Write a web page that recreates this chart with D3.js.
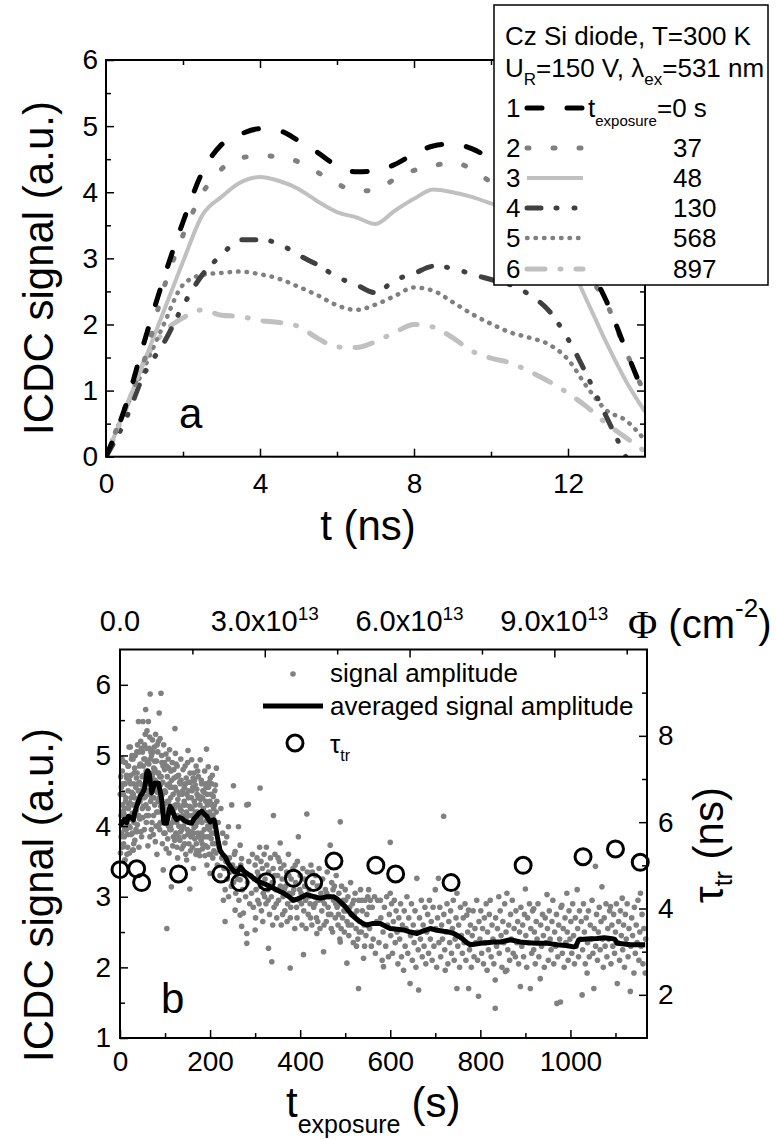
<!DOCTYPE html>
<html lang="en">
<head>
<meta charset="UTF-8">
<script src="https://d3js.org/d3.v7.min.js"></script>
<style>
    body { margin: 0; background: white; }
    svg { display: block; font-family: "Liberation Sans", Arial, sans-serif; }
</style>
</head>
<body>
<div id="chart"></div>
<script>
// ---------- panel a : transient ICDC signals ----------
const tGrid = [0, 0.5, 1, 1.5, 2, 2.5, 3, 3.5, 4, 4.5, 5, 5.5, 6, 6.5, 7, 7.5, 8, 8.5, 9, 9.5, 10, 10.5, 11, 11.5, 12, 12.5, 13, 13.5, 14];
const sig0   = [0, 0.75, 1.75, 2.7, 3.55, 4.3, 4.72, 4.88, 4.96, 4.93, 4.78, 4.6, 4.4, 4.31, 4.32, 4.42, 4.58, 4.7, 4.73, 4.66, 4.5, 4.3, 4.05, 3.7, 3.3, 2.9, 2.35, 1.62, 0.9];
const sig37  = [0, 0.75, 1.47, 2.55, 3.35, 3.98, 4.35, 4.52, 4.55, 4.54, 4.46, 4.3, 4.13, 4.02, 4.03, 4.2, 4.33, 4.4, 4.45, 4.35, 4.15, 3.95, 3.7, 3.4, 3.1, 2.75, 2.32, 1.6, 0.95];
const sig48  = [0, 0.72, 1.45, 2.2, 2.95, 3.65, 3.93, 4.15, 4.23, 4.17, 4.05, 3.86, 3.7, 3.62, 3.52, 3.72, 3.9, 4.04, 4.0, 3.93, 3.83, 3.72, 3.55, 3.3, 2.95, 2.35, 1.72, 1.15, 0.68];
const sig130 = [0, 0.55, 1.26, 1.72, 2.28, 2.75, 3.05, 3.28, 3.28, 3.22, 3.05, 2.9, 2.72, 2.6, 2.48, 2.67, 2.77, 2.88, 2.85, 2.76, 2.68, 2.6, 2.45, 2.21, 1.78, 1.22, 0.6, 0, null];
const sig568 = [0, 0.72, 1.35, 2.0, 2.6, 2.75, 2.78, 2.8, 2.76, 2.69, 2.57, 2.44, 2.29, 2.22, 2.3, 2.43, 2.56, 2.51, 2.34, 2.16, 2.01, 1.88, 1.8, 1.7, 1.47, 1.05, 0.7, 0.55, 0.25];
const sig897 = [0, 0.7, 1.45, 1.88, 2.1, 2.22, 2.14, 2.12, 2.06, 2.03, 1.97, 1.79, 1.66, 1.65, 1.74, 1.88, 2.0, 1.96, 1.8, 1.6, 1.49, 1.42, 1.29, 1.14, 0.96, 0.75, 0.5, 0.29, 0.08];
const curveIds = ["1", "2", "3", "4", "5", "6"];
const exposureLabels = ["0 s", "37", "48", "130", "568", "897"];

// ---------- panel b : signal amplitude vs exposure ----------
const ampPoints = [
    [1,3.62],[2,4.15],[3,4.55],[4,3.9],[5,4.78],[6,4.3],[7,4.02],[8,3.75],[9,4.6],[10,4.25],
    [11,3.52],[12,4.9],[13,4.4],[14,3.95],[15,4.68],[16,4.12],[17,3.7],[18,4.5],[19,4.85],[20,4.0],
    [21,3.62],[22,4.33],[23,5.12],[24,4.72],[25,3.88],[26,4.48],[27,4.18],[28,3.66],[29,4.95],[30,4.6],
    [31,4.05],[32,4.4],[33,3.8],[34,5.0],[35,4.55],[36,4.22],[37,3.92],[38,4.75],[39,5.15],[40,4.35],
    [41,5.48],[42,3.7],[43,4.62],[44,4.1],[45,4.88],[46,5.2],[47,4.45],[48,3.85],[49,4.7],[50,5.05],
    [51,5.48],[52,4.28],[53,4.95],[54,3.95],[55,4.6],[56,5.3],[57,5.65],[58,4.78],[59,4.15],[60,5.35],
    [61,4.5],[62,3.72],[63,5.48],[64,4.88],[65,5.1],[66,5.26],[67,5.87],[68,4.35],[69,4.7],[70,5.0],
    [71,4.05],[72,5.22],[73,4.55],[74,3.88],[75,4.82],[76,5.12],[77,4.3],[78,4.65],[79,5.3],[80,4.0],
    [81,4.92],[82,3.6],[83,4.48],[84,5.05],[85,4.2],[86,4.75],[87,5.6],[88,3.95],[89,5.24],[90,4.58],
    [91,5.88],[92,4.38],[93,4.9],[94,3.75],[95,4.62],[96,3.38],[97,5.15],[98,4.25],[99,4.8],[100,3.9],
    [101,4.48],[102,5.02],[103,4.15],[104,2.55],[105,4.7],[106,3.82],[107,4.95],[108,4.35],[109,3.62],[110,5.08],
    [111,4.55],[112,4.0],[113,4.78],[114,3.14],[115,4.28],[116,4.9],[117,3.72],[118,4.45],[119,4.1],[120,4.68],
    [122,5.38],[123,5.03],[124,3.9],[125,4.5],[126,4.05],[127,4.85],[128,3.55],[129,4.3],[130,4.72],[131,4.12],
    [133,3.8],[134,4.6],[135,4.95],[136,4.22],[137,3.68],[138,4.45],[140,4.8],[141,4.0],[142,3.85],[143,4.55],
    [145,4.3],[146,3.6],[147,4.68],[148,3.52],[149,4.15],[150,4.9],[151,5.07],[152,4.4],[153,3.75],[154,4.05],
    [155,3.11],[156,4.62],[157,4.25],[158,3.92],[159,4.94],[160,4.5],[161,3.7],[162,4.15],[163,3.4],[164,4.75],
    [165,4.35],[166,3.82],[167,4.58],[168,4.0],[169,4.85],[170,3.65],[171,4.45],[172,4.2],[173,3.9],[174,4.7],
    [176,4.1],[177,3.58],[178,4.94],[179,4.38],[180,3.8],[181,4.6],[182,4.05],[183,3.68],[184,4.5],[185,4.25],
    [187,3.95],[188,4.78],[189,4.15],[190,3.72],[191,4.55],[192,5.09],[193,3.45],[194,4.3],[195,4.0],[196,4.84],
    [197,3.85],[198,4.62],[199,4.2],[200,3.33],[201,3.6],[202,4.45],[203,4.1],[204,3.9],[205,4.72],[206,3.55],
    [207,4.42],[208,4.25],[209,4.0],[210,3.75],[212,4.58],[213,3.62],[214,4.82],[215,4.35],
    [0.5,4.45],[2.5,3.85],[4.5,4.95],[6.5,4.6],[8.5,4.18],[10.5,3.95],[12.5,4.35],[14.5,4.72],[16.5,3.88],[18.5,4.25],
    [20.5,4.65],[22.5,3.98],[24.5,4.4],[26.5,5.0],[28.5,4.3],[30.5,3.75],[32.5,4.82],[34.5,4.15],[36.5,4.68],[38.5,4.02],
    [40.5,4.5],[42.5,5.05],[44.5,4.35],[46.5,3.92],[48.5,4.58],[50.5,4.12],[52.5,4.72],[54.5,5.15],[56.5,4.42],[58.5,4.05],
    [60.5,4.9],[62.5,4.25],[64.5,4.6],[66.5,3.85],[68.5,5.05],[70.5,4.4],[72.5,4.75],[74.5,4.15],[76.5,4.92],[78.5,3.78],
    [80.5,4.5],[82.5,5.15],[84.5,4.35],[86.5,4.02],[88.5,4.7],[90.5,4.28],[92.5,5.0],[94.5,4.45],[96.5,4.1],[98.5,4.9],
    [100.5,4.32],[102.5,3.68],[104.5,4.58],[106.5,4.2],[108.5,4.82],[110.5,3.95],[112.5,4.4],[114.5,4.65],[116.5,4.05],[118.5,3.85],
    [120.5,4.25],[122.5,4.55],[124.5,4.88],[126.5,3.7],[128.5,4.38],[130.5,4.0],[132.5,4.62],[134.5,3.92],[136.5,4.48],[138.5,4.15],
    [140.5,3.72],[142.5,4.35],[144.5,4.85],[146.5,4.1],[148.5,4.45],[150.5,3.88],[152.5,4.62],[154.5,4.28],[156.5,3.65],[158.5,4.4],
    [160.5,4.15],[162.5,4.68],[164.5,3.98],[166.5,4.3],[168.5,3.6],[170.5,4.52],[172.5,4.78],[174.5,3.85],[176.5,4.42],[178.5,4.12],
    [180.5,4.65],[182.5,3.75],[184.5,4.22],[186.5,4.48],[188.5,3.58],[190.5,4.35],[192.5,4.08],[194.5,3.7],[196.5,4.55],[198.5,3.95],
    [200.5,4.68],[202.5,3.82],[204.5,4.3],[206.5,4.15],[208.5,3.65],[210.5,4.5],[29.6,3.66],[11,3.52],[7.4,4.91],[20,5.12],
    [1.5,4.7],[3.5,4.2],[5.5,3.7],[7.5,4.45],[9.5,3.85],[11.5,4.6],[13.5,4.05],[15.5,3.6],[17.5,4.85],[19.5,4.3],
    [21.5,4.1],[23.5,4.6],[25.5,4.95],[27.5,3.9],[29.5,4.45],[31.5,4.75],[33.5,4.3],[35.5,3.95],[37.5,5.05],[39.5,4.6],
    [41.5,4.15],[43.5,4.85],[45.5,4.5],[47.5,5.1],[49.5,4.25],[51.5,4.85],[53.5,4.4],[55.5,4.95],[57.5,4.3],[59.5,5.1],
    [61.5,4.7],[63.5,4.15],[65.5,4.45],[67.5,4.95],[69.5,3.95],[71.5,4.7],[73.5,5.05],[75.5,4.4],[77.5,4.8],[79.5,4.55],
    [81.5,4.2],[83.5,4.75],[85.5,5.2],[87.5,4.4],[89.5,4.05],[91.5,4.7],[93.5,4.25],[95.5,4.85],[97.5,3.9],[99.5,4.5],
    [101.5,4.1],[103.5,4.85],[105.5,4.35],[107.5,4.0],[109.5,4.6],[111.5,4.25],[113.5,3.95],[115.5,4.55],[117.5,4.2],[119.5,4.8],
    [121.5,3.8],[123.5,4.3],[125.5,4.7],[127.5,4.15],[129.5,3.85],[131.5,4.45],[133.5,4.25],[135.5,4.65],[137.5,3.95],[139.5,4.5],
    [141.5,4.3],[143.5,3.75],[145.5,4.6],[147.5,4.2],[149.5,3.95],[151.5,4.5],[153.5,4.15],[155.5,4.75],[157.5,3.85],[159.5,4.25],
    [161.5,4.55],[163.5,3.9],[165.5,4.65],[167.5,4.2],[169.5,3.75],[171.5,4.05],[173.5,4.4],[175.5,3.65],[177.5,4.3],[179.5,4.1],
    [181.5,3.9],[183.5,4.4],[185.5,3.85],[187.5,4.2],[189.5,4.6],[191.5,3.85],[193.5,4.45],[195.5,4.15],[197.5,3.6],[199.5,4.35],
    [201.5,4.0],[203.5,4.6],[205.5,3.75],[207.5,4.05],[209.5,4.3],[211.5,3.9],[213.5,4.2],
    [216,3.45],[218,4.05],[220,3.7],[222,3.3],[224,4.25],[226,3.55],[228,3.9],[229.6,2.95],[231,3.4],[233,3.76],
    [233.5,3.1],[233.3,2.65],[235,3.5],[237,3.85],[238,3.25],[240.7,3.99],[241,3.0],[243,3.55],[245,3.35],[247,3.15],
    [248,4.3],[250,3.45],[251.9,4.57],[252,3.2],[254,3.6],[255.6,3.64],[255.6,2.81],[257,3.05],[259,3.4],[261,3.25],
    [263,3.99],[264,2.95],[266.7,3.73],[266.7,3.24],[266.7,2.74],[268,3.45],[270,3.54],[270,2.58],[272,3.1],[274,2.77],
    [276,3.35],[277.8,3.33],[279,3.0],[281.5,4.3],[281.5,2.48],[281.5,2.34],[283,3.2],[285,4.31],[286,3.5],[288,2.9],
    [290,3.3],[292,3.05],[294,3.6],[296,2.85],[298,3.25],[300,2.53],[300,3.45],
    [302,3.1],[304,3.55],[306,2.95],[308,3.3],[310,3.7],[311,4.54],[312,3.15],[314,2.8],[316,3.4],[318,3.05],
    [320,3.6],[322,3.25],[324,2.9],[326,3.45],[328,3.1],[329.6,2.27],[330,3.35],[332,2.75],[334,3.55],[336,3.0],
    [337,2.08],[338,3.2],[340,3.4],[340.7,4.15],[342,2.85],[344,3.6],[346,3.1],[348,2.7],[350,3.3],[352,2.95],
    [354,3.5],[355.6,3.76],[356,3.15],[358,2.6],[360,3.25],[362,3.0],[364,3.45],[366,2.8],[368,3.15],[370,3.35],
    [372,2.9],[374,3.6],[376,3.05],[377.8,1.99],[378,2.7],[380,3.25],[382,2.95],[384,3.4],[386,3.1],[388,2.55],
    [390,3.2],[392,2.85],[394,3.5],[396,3.85],[398,2.95],[400,3.3],[402,3.05],[404,2.6],[406,3.4],[407.4,2.18],
    [408,2.8],[410,3.15],[412,2.95],[414.8,4.17],[416,3.35],[418,2.75],[420,3.1],[422,2.9],[424,3.45],[426,2.6],
    [428,3.2],[430,2.85],[432,3.0],[434,3.3],[436,2.7],[437,2.48],[438,3.15],[440,2.95],[442,3.4],[444,2.55],
    [446,3.05],[448,2.8],[450,3.25],[452,2.22],[454,2.9],[456,3.1],[458,2.65],[460,3.35],[462,2.85],[464,3.0],
    [466.7,3.73],[468,2.75],[470,3.2],[472,2.5],[474,2.95],[476,3.15],[478,2.7],[480,3.3],[482,2.85],[484,2.6],
    [486,3.05],[488,2.4],[489,4.06],[489,2.36],[490,2.9],[492,3.15],[494,2.7],[496,2.95],[498,2.5],[500,3.1],
    [502,2.8],[503.7,2.06],[504,2.65],[506,3.0],[508,2.45],[510,2.85],[512,3.2],[514,2.6],[516,2.9],[518,2.35],
    [520,2.75],[522,3.05],[524,2.55],[526,2.8],[528,2.4],[529.6,1.7],[530,2.95],[532,2.65],[534,3.1],[536,2.5],
    [538,2.8],[540.7,2.13],[542,2.6],[544,2.95],[546,2.45],[548,2.75],[550,3.0],[552,3.1],[554,2.55],[555.6,2.95],[558,2.3],
    [301,2.7],[305,3.35],[309,2.9],[313,3.5],[317,2.65],[321,3.0],[325,3.7],[329,2.95],[333,3.15],[339,2.6],
    [343,3.3],[347,2.9],[351,3.55],[357,3.4],[361,2.75],[365,3.1],[371,2.65],[375,3.3],[379,2.85],[383,3.05],
    [389,3.45],[393,2.7],[399,3.1],[403,2.9],[409,3.25],[413,2.55],[419,3.0],[423,2.7],[427,3.35],[433,2.9],
    [439,2.65],[443,3.15],[449,2.95],[453,2.6],[459,3.05],[463,2.75],[469,2.55],[473,3.1],[479,2.9],[485,2.75],
    [491,2.55],[497,2.8],[501,2.95],[507,2.6],[513,2.75],[519,2.95],[525,2.3],[531,2.5],[537,2.95],[543,2.3],
    [549,2.6],[553,2.85],
    [560,2.85],[562,2.4],[565,3.0],[567,2.2],[570,2.65],[572,2.95],[575,2.35],[578,2.95],[579,2.7],[582,2.1],
    [584,2.5],[585,2.01],[587,2.85],[590,2.3],[592,3.0],[594,2.6],[596,2.15],[598,2.75],[600,3.77],[600,3.05],
    [601,2.45],[603,2.9],[605,2.2],[607,2.65],[609,2.95],[611,2.35],[613,2.8],[615,2.5],[617,2.05],[619,2.7],
    [621,2.4],[623,2.9],[625,2.15],[627,2.6],[629.6,1.96],[631,2.8],[633,2.3],[635,2.55],[637,3.0],[639,2.2],
    [641,2.7],[644,1.77],[645,2.45],[647,2.9],[649,2.1],[651,2.6],[653,2.35],[655,2.8],[657,2.0],[659,3.26],
    [660,2.5],[662,2.25],[663,1.68],[665,2.7],[667,2.4],[669,2.95],[671,2.15],[673,2.6],[675,2.3],[677,2.85],
    [679,2.05],[681,2.5],[683,2.75],[685,2.2],[687,2.95],[689,2.4],[691,2.65],[693,2.1],[695,2.85],[697,2.3],
    [700,3.1],[701,2.55],[703,2.0],[705,2.7],[707,3.26],[708,2.35],[710,2.85],[712,2.15],[714,2.6],[716,2.4],
    [718.5,4.14],[719,2.75],[721,2.25],[722,1.96],[724,2.5],[726,2.9],[728,2.05],[730,2.65],[732,2.35],[734,2.8],
    [736,2.2],[738,2.55],[740,2.95],[742,2.1],[744,2.4],[746,2.7],[748,3.05],[748,1.7],[750,2.3],[752,2.6],
    [754,2.0],[756,2.85],[758,2.45],[760,2.2],[762,2.7],[764,2.35],[766,2.9],[768,2.1],[770,2.74],[772,2.5],
    [774,2.81],[774,1.7],[776,2.25],[778,2.6],[780,2.0],[782,2.45],[784,2.8],[786,2.15],[788,2.55],[790,2.35],
    [792,2.95],[794,2.1],[796,1.59],[797,2.65],[799,2.4],[801,2.8],[803,2.2],[805,2.55],[807,2.05],[809,2.7],
    [811,2.35],[813,2.9],[815,1.96],[816,2.5],[818,2.25],[820,2.75],[822,2.95],[824,2.15],[826,2.6],[828,2.4],
    [830,2.05],[833,1.82],[833,1.42],[834,2.7],[836,2.3],[838,2.55],[841,3.0],[842,2.2],[844,2.8],[846,2.45],
    [848,2.0],[850,2.65],[852,2.35],[854,2.9],[855.6,1.94],[857,2.5],[859,3.05],[859,1.96],[861,2.25],[863,2.6],
    [865,2.1],[867,2.75],[869,2.4],[871,2.95],[873,2.2],[875,2.55],[877.8,2.15],[879,2.8],[881,2.35],[883,2.65],
    [885,2.05],[887,2.5],[888.9,1.73],[890,2.85],[892,2.3],[894,2.6],[896,2.15],[898,2.75],[900,3.11],[901,2.45],
    [903,2.0],[905,2.7],[907,2.35],[909,2.9],[911,1.7],[912,2.55],[914,2.2],[916,2.8],[918.5,2.83],[918.5,2.25],
    [920,2.5],[922,2.05],[924,2.65],[926,2.4],[928,2.9],[930,2.15],[933,1.84],[934,2.6],[936,2.3],[938,2.75],
    [940,2.45],[942,2.0],[944,2.7],[946,2.35],[948,3.03],[949,2.55],[951,2.1],[953,2.8],[955,2.4],[957,2.25],
    [959,2.65],[961,2.95],[963,2.05],[965,2.5],[967,2.3],[969,2.75],[970,1.49],[972,2.15],[974,2.6],[976,2.4],
    [977.8,1.51],[979,2.85],[981,2.88],[982,2.2],[984,2.55],[986,2.0],[988,2.7],[990,2.35],[992,3.05],[993,2.5],
    [995,2.1],[997,2.8],[999,2.4],[1001,2.65],[1003,2.2],[1005,2.9],[1007,2.45],[1009,2.05],[1011,2.7],[1013,2.3],
    [1015,3.1],[1016,2.55],[1018,2.15],[1020,2.8],[1022,2.4],[1024,2.65],[1026,1.61],[1027,2.25],[1029,2.9],[1031,2.5],
    [1033,2.05],[1035,2.7],[1037,1.92],[1038,2.35],[1040,2.8],[1042,2.15],[1044,2.6],[1046,2.4],[1048,2.95],[1050,2.2],
    [1052,1.7],[1053,2.55],[1055.5,3.43],[1056,2.3],[1058,2.75],[1060,2.1],[1062,2.5],[1064,2.85],[1066,2.25],[1068,2.65],
    [1070,3.14],[1071,2.4],[1073,2.0],[1075,2.7],[1077,2.3],[1079,2.9],[1081,2.15],[1083,2.55],[1085,2.4],[1087,2.8],
    [1089,2.86],[1090,2.05],[1092,2.6],[1094,2.3],[1096,2.75],[1098,2.2],[1100,2.5],[1102,2.9],[1104,1.77],[1105,2.35],
    [1107,2.65],[1109,2.1],[1111,2.8],[1113,2.45],[1115,2.98],[1116,2.25],[1118,2.6],[1120,2.0],[1122,2.75],[1124,2.4],
    [1126,2.9],[1128,2.15],[1130,2.55],[1133,1.66],[1134,2.3],[1136,2.7],[1138,2.45],[1141,1.92],[1142,2.85],[1144,2.2],
    [1146,2.6],[1148,2.35],[1150,2.95],[1152,2.1],[1154,2.5],[1155.5,3.05],[1157,2.3],[1159,2.75],[1161,2.05],[1163,2.55],
    [1166,1.92],[1167,2.4]
];
const avgT = [0, 4, 10, 15, 18.5, 25, 29.6, 33, 37, 41, 44.4, 48, 51.9, 55, 59.3, 62, 65.2, 68, 70.4, 74, 77.8, 82, 85.2, 89, 92.6, 95, 97.8, 103.7, 107, 111, 115, 118.5, 122, 126, 132, 137, 142, 148, 153, 159, 164, 170, 175, 181.5, 187, 192.6, 196, 200, 205, 209, 212, 214.8, 218, 222, 228, 233, 240.7, 248, 255, 262, 268, 275, 289, 305, 322, 340.7, 360, 375, 385, 395, 405, 414.8, 430, 444.4, 460, 474, 482, 489, 500, 510, 518.5, 530, 540, 548, 560, 577.8, 590, 600, 615, 629.6, 645, 659.3, 675, 688.9, 700, 718.5, 730, 740.7, 752, 763, 770, 777.8, 790, 800, 815, 829.6, 845, 866.7, 888.9, 905, 925.9, 950, 970.4, 990, 1007.4, 1012, 1018.5, 1035, 1059, 1075, 1089, 1098, 1103.7, 1120, 1133, 1150, 1166];
const avgV = [4.0, 4.04, 4.1, 4.05, 4.14, 4.12, 4.09, 4.2, 4.28, 4.35, 4.42, 4.45, 4.49, 4.55, 4.75, 4.78, 4.73, 4.6, 4.47, 4.55, 4.61, 4.6, 4.61, 4.5, 4.37, 4.2, 4.04, 4.04, 4.15, 4.28, 4.24, 4.18, 4.13, 4.09, 4.12, 4.11, 4.08, 4.06, 4.05, 4.04, 4.1, 4.14, 4.18, 4.21, 4.17, 4.14, 4.1, 4.06, 4.08, 4.09, 4.0, 3.9, 3.78, 3.66, 3.6, 3.57, 3.47, 3.4, 3.35, 3.36, 3.42, 3.36, 3.3, 3.22, 3.18, 3.12, 3.06, 3.0, 2.95, 2.97, 3.0, 3.03, 3.0, 2.98, 3.0, 3.0, 2.97, 2.93, 2.86, 2.78, 2.72, 2.66, 2.62, 2.6, 2.62, 2.62, 2.58, 2.55, 2.54, 2.53, 2.5, 2.48, 2.52, 2.55, 2.53, 2.51, 2.5, 2.48, 2.44, 2.39, 2.35, 2.32, 2.33, 2.34, 2.35, 2.36, 2.36, 2.39, 2.36, 2.35, 2.34, 2.34, 2.32, 2.31, 2.29, 2.3, 2.39, 2.4, 2.41, 2.42, 2.41, 2.4, 2.34, 2.33, 2.32, 2.32, 2.32];
const tauT = [0, 37, 48, 130, 224, 266, 325, 385, 430, 475, 568, 612, 735, 895, 1028, 1100, 1155];
const tauV = [4.9, 4.92, 4.6, 4.8, 4.8, 4.6, 4.62, 4.7, 4.6, 5.1, 5.0, 4.8, 4.6, 5.0, 5.2, 5.38, 5.07];
const phiTicks = [0, 3e13, 6e13, 9e13];
const phiMant = ["0.0", "3.0x10", "6.0x10", "9.0x10"];
const phiExp = ["", "13", "13", "13"];

const svg = d3.select("#chart").append("svg")
    .attr("width", 776)
    .attr("height", 1139);

const intFmt = d3.format("d");

function finishAxis(g, fontSize) {
    g.select(".domain").remove();
    g.selectAll(".tick line").attr("stroke", "#000").attr("stroke-width", 1.5);
    g.selectAll(".tick text")
        .attr("fill", "#000")
        .attr("font-size", fontSize)
        .attr("font-family", "Liberation Sans, Arial, sans-serif");
}

// ================= panel a =================
const xA = d3.scaleLinear().domain([0, 14]).range([106, 645]);
const yA = d3.scaleLinear().domain([0, 6]).range([456.7, 60]);

const styles = [
    { color: "#000000", width: 5, dash: "15,25" },
    { color: "#808080", width: 5, dash: "2,24" },
    { color: "#c0c0c0", width: 4, dash: null },
    { color: "#404040", width: 5, dash: "14,15,1,17,1,17" },
    { color: "#808080", width: 4.5, dash: "0.5,8" },
    { color: "#c0c0c0", width: 5, dash: "18,15,1,15" }
];
const curves = [sig0, sig37, sig48, sig130, sig568, sig897];

svg.append("clipPath").attr("id", "clipA")
    .append("rect")
    .attr("x", xA(0)).attr("y", yA(6))
    .attr("width", xA(14) - xA(0)).attr("height", yA(0) - yA(6));

const lineA = d3.line()
    .defined(d => d[1] != null)
    .x(d => xA(d[0]))
    .y(d => yA(d[1]))
    .curve(d3.curveMonotoneX);

const gA = svg.append("g").attr("clip-path", "url(#clipA)");
for (let i = curves.length - 1; i >= 0; i--) {
    const pts = tGrid.map((t, j) => [t, curves[i][j]]);
    gA.append("path")
        .attr("d", lineA(pts))
        .attr("fill", "none")
        .attr("stroke", styles[i].color)
        .attr("stroke-width", styles[i].width)
        .attr("stroke-linecap", styles[i].dash ? "round" : "butt")
        .attr("stroke-linejoin", "round")
        .attr("stroke-dasharray", styles[i].dash);
}

// axes a
svg.append("g").attr("transform", `translate(0,${yA(0)})`)
    .call(d3.axisBottom(xA).tickValues([0, 4, 8, 12]).tickFormat(intFmt).tickSizeInner(-8).tickSizeOuter(0).tickPadding(16))
    .call(g => finishAxis(g, 28));
svg.append("g").attr("transform", `translate(0,${yA(0)})`)
    .call(d3.axisBottom(xA).tickValues([2, 6, 10]).tickSize(-5).tickFormat(""))
    .call(g => finishAxis(g, 28));
svg.append("g").attr("transform", `translate(0,${yA(6)})`)
    .call(d3.axisTop(xA).tickValues([4, 8, 12]).tickSize(-8).tickFormat(""))
    .call(g => finishAxis(g, 28));
svg.append("g").attr("transform", `translate(0,${yA(6)})`)
    .call(d3.axisTop(xA).tickValues([2, 6, 10]).tickSize(-5).tickFormat(""))
    .call(g => finishAxis(g, 28));
svg.append("g").attr("transform", `translate(${xA(0)},0)`)
    .call(d3.axisLeft(yA).tickValues([0, 1, 2, 3, 4, 5, 6]).tickFormat(intFmt).tickSizeInner(-8).tickSizeOuter(0).tickPadding(8))
    .call(g => finishAxis(g, 28));
svg.append("g").attr("transform", `translate(${xA(0)},0)`)
    .call(d3.axisLeft(yA).tickValues([0.5, 1.5, 2.5, 3.5, 4.5, 5.5]).tickSize(-5).tickFormat(""))
    .call(g => finishAxis(g, 28));
svg.append("g").attr("transform", `translate(${xA(14)},0)`)
    .call(d3.axisRight(yA).tickValues([1, 2, 3, 4, 5]).tickSize(-8).tickFormat(""))
    .call(g => finishAxis(g, 28));
svg.append("g").attr("transform", `translate(${xA(14)},0)`)
    .call(d3.axisRight(yA).tickValues([0.5, 1.5, 2.5, 3.5, 4.5, 5.5]).tickSize(-5).tickFormat(""))
    .call(g => finishAxis(g, 28));
svg.append("rect")
    .attr("x", xA(0)).attr("y", yA(6))
    .attr("width", xA(14) - xA(0)).attr("height", yA(0) - yA(6))
    .attr("fill", "none").attr("stroke", "#000").attr("stroke-width", 2);

svg.append("text").attr("x", 368).attr("y", 540)
    .attr("text-anchor", "middle").attr("font-size", 42).text("t (ns)");
svg.append("text").attr("transform", "translate(53,268) rotate(-90)")
    .attr("text-anchor", "middle").attr("font-size", 42).text("ICDC signal (a.u.)");
svg.append("text").attr("x", 179).attr("y", 428).attr("font-size", 42).text("a");

// legend a
const legA = svg.append("g");
legA.append("rect")
    .attr("x", 494).attr("y", 5).attr("width", 274).attr("height", 280)
    .attr("fill", "#fff").attr("stroke", "#000").attr("stroke-width", 1.5);
legA.append("text").attr("x", 505).attr("y", 45).attr("font-size", 26).text("Cz Si diode, T=300 K");
const l2 = legA.append("text").attr("x", 505).attr("y", 77).attr("font-size", 26);
l2.append("tspan").text("U");
l2.append("tspan").attr("font-size", 17).attr("dy", 8).text("R");
l2.append("tspan").attr("dy", -8).text("=150 V, λ");
l2.append("tspan").attr("font-size", 17).attr("dy", 8).text("ex");
l2.append("tspan").attr("dy", -8).text("=531 nm");

const rowY = [117, 157, 187, 217, 247, 278];
curveIds.forEach((id, i) => {
    legA.append("text").attr("x", 506).attr("y", rowY[i]).attr("font-size", 26).text(id);
    legA.append("line")
        .attr("x1", 527).attr("x2", 583)
        .attr("y1", rowY[i] - 9).attr("y2", rowY[i] - 9)
        .attr("stroke", styles[i].color)
        .attr("stroke-width", styles[i].width)
        .attr("stroke-linecap", styles[i].dash ? "round" : "butt")
        .attr("stroke-dasharray", styles[i].dash);
    if (i === 0) {
        const t1 = legA.append("text").attr("x", 588).attr("y", rowY[i]).attr("font-size", 26);
        t1.append("tspan").text("t");
        t1.append("tspan").attr("font-size", 15).attr("dy", 9).text("exposure");
        t1.append("tspan").attr("dy", -9).text("=" + exposureLabels[i]);
    } else {
        legA.append("text").attr("x", 673).attr("y", rowY[i]).attr("font-size", 26).text(exposureLabels[i]);
    }
});

// ================= panel b =================
const xB = d3.scaleLinear().domain([0, 1170]).range([120, 647]);
const yB = d3.scaleLinear().domain([1, 6.5]).range([1038, 649.5]);
const yTau = d3.scaleLinear().domain([1, 10]).range([1038, 649.5]);
const xPhi = d3.scaleLinear().domain([0, 1.092e14]).range([120, 647]);

svg.append("g").selectAll("circle")
    .data(ampPoints)
    .join("circle")
    .attr("cx", d => xB(d[0]))
    .attr("cy", d => yB(d[1]))
    .attr("r", 2.8)
    .attr("fill", "#808080");

const avgLine = d3.line().x(d => xB(d[0])).y(d => yB(d[1]));
svg.append("path")
    .attr("d", avgLine(avgT.map((t, i) => [t, avgV[i]])))
    .attr("fill", "none").attr("stroke", "#000")
    .attr("stroke-width", 5).attr("stroke-linejoin", "round");

svg.append("g").selectAll("circle")
    .data(tauT.map((t, i) => [t, tauV[i]]))
    .join("circle")
    .attr("cx", d => xB(d[0]))
    .attr("cy", d => yTau(d[1]))
    .attr("r", 8)
    .attr("fill", "none").attr("stroke", "#000").attr("stroke-width", 3);

// axes b
svg.append("g").attr("transform", `translate(0,${yB(1)})`)
    .call(d3.axisBottom(xB).tickValues([0, 200, 400, 600, 800, 1000]).tickFormat(intFmt).tickSizeInner(-8).tickSizeOuter(0).tickPadding(13))
    .call(g => finishAxis(g, 28));
svg.append("g").attr("transform", `translate(0,${yB(1)})`)
    .call(d3.axisBottom(xB).tickValues([100, 300, 500, 700, 900, 1100]).tickSize(-5).tickFormat(""))
    .call(g => finishAxis(g, 28));
svg.append("g").attr("transform", `translate(${xB(0)},0)`)
    .call(d3.axisLeft(yB).tickValues([1, 2, 3, 4, 5, 6]).tickFormat(intFmt).tickSizeInner(-8).tickSizeOuter(0).tickPadding(9))
    .call(g => finishAxis(g, 28));
svg.append("g").attr("transform", `translate(${xB(0)},0)`)
    .call(d3.axisLeft(yB).tickValues([1.5, 2.5, 3.5, 4.5, 5.5]).tickSize(-5).tickFormat(""))
    .call(g => finishAxis(g, 28));
svg.append("g").attr("transform", `translate(${xB(1170)},0)`)
    .call(d3.axisRight(yTau).tickValues([2, 4, 6, 8]).tickFormat(intFmt).tickSizeInner(-8).tickSizeOuter(0).tickPadding(11))
    .call(g => finishAxis(g, 28));
svg.append("g").attr("transform", `translate(${xB(1170)},0)`)
    .call(d3.axisRight(yTau).tickValues([3, 5, 7, 9]).tickSize(-5).tickFormat(""))
    .call(g => finishAxis(g, 28));
svg.append("g").attr("transform", `translate(0,${yB(6.5)})`)
    .call(d3.axisTop(xPhi).tickValues(phiTicks.slice(1)).tickSize(-8).tickFormat(""))
    .call(g => finishAxis(g, 28));
svg.append("g").attr("transform", `translate(0,${yB(6.5)})`)
    .call(d3.axisTop(xPhi).tickValues([1.5e13, 4.5e13, 7.5e13, 10.5e13]).tickSize(-5).tickFormat(""))
    .call(g => finishAxis(g, 28));
svg.append("rect")
    .attr("x", xB(0)).attr("y", yB(6.5))
    .attr("width", xB(1170) - xB(0)).attr("height", yB(1) - yB(6.5))
    .attr("fill", "none").attr("stroke", "#000").attr("stroke-width", 2);

// top fluence labels
phiTicks.forEach((v, i) => {
    const t = svg.append("text").attr("x", xPhi(v)).attr("y", 631)
        .attr("text-anchor", "middle").attr("font-size", 29);
    t.append("tspan").text(phiMant[i]);
    if (phiExp[i]) t.append("tspan").attr("font-size", 19).attr("dy", -11).text(phiExp[i]);
});
const phiLab = svg.append("text").attr("x", 628).attr("y", 638).attr("font-size", 40);
phiLab.append("tspan").attr("font-family", "Liberation Serif, Times New Roman, serif").text("Φ");
phiLab.append("tspan").text(" (cm");
phiLab.append("tspan").attr("font-size", 26).attr("dy", -21).text("-2");
phiLab.append("tspan").attr("dy", 21).text(")");

svg.append("text").attr("transform", "translate(53,895) rotate(-90)")
    .attr("text-anchor", "middle").attr("font-size", 42).text("ICDC signal (a.u.)");
const tauLab = svg.append("text").attr("transform", "translate(723,845) rotate(-90)")
    .attr("text-anchor", "middle").attr("font-size", 42);
tauLab.append("tspan").text("τ");
tauLab.append("tspan").attr("font-size", 25).attr("dy", 9).text("tr");
tauLab.append("tspan").attr("dy", -9).text(" (ns)");

const xLab = svg.append("text").attr("x", 286).attr("y", 1117).attr("font-size", 42);
xLab.append("tspan").text("t");
xLab.append("tspan").attr("font-size", 25).attr("dy", 16).text("exposure");
xLab.append("tspan").attr("dy", -16).attr("dx", 11).text("(s)");

svg.append("text").attr("x", 161).attr("y", 1013).attr("font-size", 42).text("b");

// legend b
svg.append("circle").attr("cx", 293).attr("cy", 674).attr("r", 2.8).attr("fill", "#808080");
svg.append("text").attr("x", 330).attr("y", 682).attr("font-size", 26).text("signal amplitude");
svg.append("line").attr("x1", 263).attr("x2", 323).attr("y1", 706).attr("y2", 706)
    .attr("stroke", "#000").attr("stroke-width", 5);
svg.append("text").attr("x", 330).attr("y", 715).attr("font-size", 26).text("averaged signal amplitude");
svg.append("circle").attr("cx", 295).attr("cy", 743).attr("r", 8)
    .attr("fill", "none").attr("stroke", "#000").attr("stroke-width", 3);
const tauLeg = svg.append("text").attr("x", 330).attr("y", 753).attr("font-size", 26);
tauLeg.append("tspan").text("τ");
tauLeg.append("tspan").attr("font-size", 16).attr("dy", 8).text("tr");
</script>
</body>
</html>
